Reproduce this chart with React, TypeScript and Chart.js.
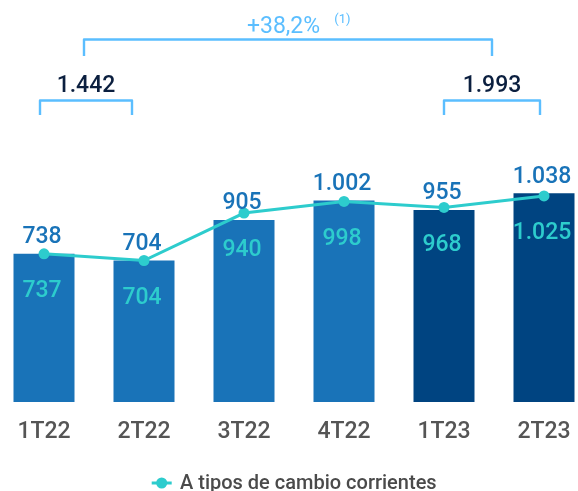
import React, { useEffect, useRef } from "react";
import { Chart, registerables } from "chart.js";

Chart.register(...registerables);

// ---- data ----
const categories = ["1T22", "2T22", "3T22", "4T22", "1T23", "2T23"];
const constantValues = [738, 704, 905, 1002, 955, 1038]; // bars (labels above)
const currentValues = [737, 704, 940, 998, 968, 1025]; // line "A tipos de cambio corrientes"
const legendLabel = "A tipos de cambio corrientes";
const growthLabel = "+38,2%";
const footnoteLabel = "(1)";
const firstGroup = [0, 1];
const secondGroup = [4, 5];

// ---- styles ----
const FONT = "Roboto, 'Noto Sans', sans-serif";
const BLUE = "#1973B8";
const NAVY = "#004481";
const AQUA = "#2DCCCD";
const LIGHT = "#5BBEFF";
const DARK = "#0B1F3F";
const GRAY = "#555555";
const CAP = 0.711;
const SHIFT = 6; // canvas is shifted left by this many px

const fmt = (v: number) => String(v).replace(/\B(?=(\d{3})+(?!\d))/g, ".");

function capText(ctx: CanvasRenderingContext2D, text: string, x: number, capCenter: number, size: number, weight: number, color: string, align: CanvasTextAlign = "center") {
  ctx.save();
  ctx.font = `${weight} ${size}px ${FONT}`;
  ctx.fillStyle = color;
  ctx.textAlign = align;
  ctx.textBaseline = "alphabetic";
  ctx.fillText(text, x, capCenter + (CAP * size) / 2);
  ctx.restore();
}

const overlayPlugin = {
  id: "overlay",
  afterDatasetsDraw(chart: any) {
    const ctx: CanvasRenderingContext2D = chart.ctx;
    const barMeta = chart.getDatasetMeta(1);
    const lineMeta = chart.getDatasetMeta(0);
    barMeta.data.forEach((bar: any, i: number) => {
      capText(ctx, fmt(constantValues[i]), bar.x - 2, bar.y - 19, 23, 500, BLUE);
    });
    lineMeta.data.forEach((pt: any, i: number) => {
      capText(ctx, fmt(currentValues[i]), pt.x - 2, pt.y + 35, 23, 500, AQUA);
    });
  },
  afterDraw(chart: any) {
    const ctx: CanvasRenderingContext2D = chart.ctx;
    const xs = chart.scales.x;
    const c = (i: number) => xs.getPixelForValue(i);

    const bracket = (x1: number, x2: number, yTop: number, yBot: number) => {
      ctx.save();
      ctx.strokeStyle = LIGHT;
      ctx.lineWidth = 2.4;
      ctx.lineJoin = "round";
      ctx.lineCap = "butt";
      ctx.beginPath();
      ctx.moveTo(x1, yBot);
      ctx.lineTo(x1, yTop);
      ctx.lineTo(x2, yTop);
      ctx.lineTo(x2, yBot);
      ctx.stroke();
      ctx.restore();
    };

    const l1 = c(firstGroup[0]) - 4;
    const l2 = c(firstGroup[1]) - 12;
    const r1 = c(secondGroup[0]);
    const r2 = c(secondGroup[1]) - 4;
    bracket(l1, l2, 100.5, 115);
    bracket(r1, r2, 100.5, 115);
    const lm = (l1 + l2) / 2;
    const rm = (r1 + r2) / 2;
    bracket(lm - 2, rm, 39.5, 56);

    const sum1 = firstGroup.reduce((s, i) => s + constantValues[i], 0);
    const sum2 = secondGroup.reduce((s, i) => s + constantValues[i], 0);
    capText(ctx, fmt(sum1), lm, 84.3, 23, 500, DARK);
    capText(ctx, fmt(sum2), rm, 84.3, 23, 500, DARK);

    capText(ctx, growthLabel, 283.5 + SHIFT, 25.3, 23, 400, LIGHT);
    capText(ctx, footnoteLabel, 334.3 + SHIFT, 18.7, 13, 400, LIGHT, "left");

    // legend
    const ly = 483;
    ctx.save();
    ctx.strokeStyle = AQUA;
    ctx.lineWidth = 3;
    ctx.beginPath();
    ctx.moveTo(151.7 + SHIFT, ly);
    ctx.lineTo(171.7 + SHIFT, ly);
    ctx.stroke();
    ctx.fillStyle = AQUA;
    ctx.beginPath();
    ctx.arc(161.7 + SHIFT, ly, 5.5, 0, Math.PI * 2);
    ctx.fill();
    ctx.restore();
    capText(ctx, legendLabel, 180 + SHIFT, 482.2, 20, 500, "#4A4A4A", "left");
  },
};

export default function App() {
  const ref = useRef<HTMLCanvasElement | null>(null);
  useEffect(() => {
    if (!ref.current) return;
    const chart = new Chart(ref.current, {
      type: "bar",
      data: {
        labels: categories,
        datasets: [
          {
            type: "line",
            label: legendLabel,
            data: currentValues,
            borderColor: AQUA,
            backgroundColor: AQUA,
            borderWidth: 3,
            pointRadius: 5.5,
            pointBackgroundColor: AQUA,
            pointBorderWidth: 0,
            tension: 0,
            clip: false,
            order: 0,
          } as any,
          {
            type: "bar",
            label: "A tipos de cambio constantes",
            data: constantValues,
            backgroundColor: categories.map((_, i) => (i >= 4 ? NAVY : BLUE)),
            borderWidth: 0,
            categoryPercentage: 1,
            barPercentage: 0.61,
            order: 1,
          } as any,
        ],
      },
      options: {
        responsive: false,
        maintainAspectRatio: false,
        devicePixelRatio: 1,
        animation: false,
        layout: { autoPadding: false, padding: { left: 0, right: 0, top: 0, bottom: 45 } },
        plugins: {
          legend: { display: false },
          tooltip: { enabled: false },
        },
        scales: {
          x: {
            grid: { display: false, drawTicks: false },
            border: { display: false },
            ticks: {
              color: GRAY,
              padding: 16,
              font: { family: FONT, size: 23, weight: 500, lineHeight: "28px" } as any,
            },
            afterFit: (scale: any) => {
              scale.height = 44;
            },
          },
          y: {
            display: false,
            min: 0,
            max: 2000,
          },
        },
      } as any,
      plugins: [overlayPlugin],
    });
    return () => chart.destroy();
  }, []);

  return (
    <div style={{ position: "fixed", left: 0, top: 0, width: 578, height: 491, overflow: "hidden", background: "#fff" }}>
      <canvas ref={ref} width={600} height={491} style={{ position: "absolute", left: -SHIFT, top: 0, width: 600, height: 491 }} />
    </div>
  );
}
